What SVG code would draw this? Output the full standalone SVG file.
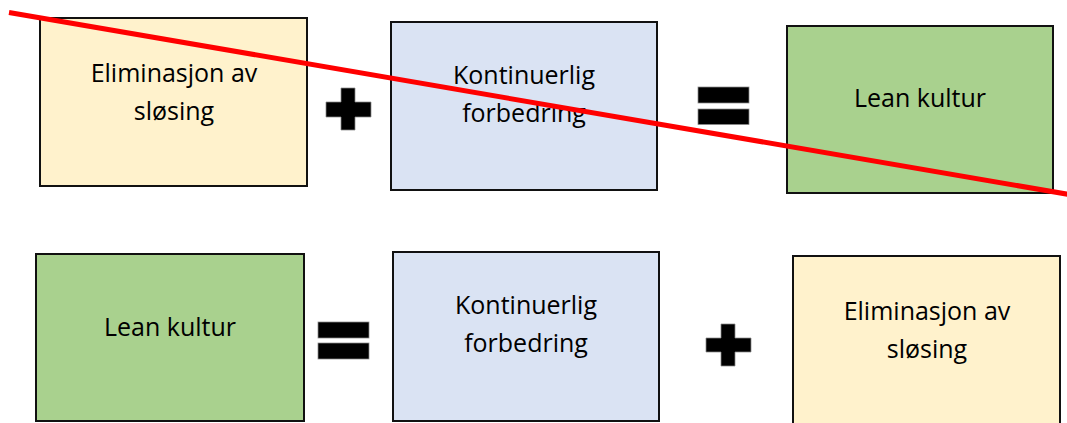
<svg xmlns="http://www.w3.org/2000/svg" width="1067" height="423" viewBox="0 0 1067 423">
  <style>
    .box { stroke: #111; stroke-width: 2; }
    .yellow { fill: #FFF2CC; }
    .blue { fill: #DAE3F3; }
    .green { fill: #A9D18E; }
    .lbl { font-family: "Open Sans", "Liberation Sans", sans-serif; font-size: 25px; fill: #000; text-anchor: middle; }
    .op { fill: #000; stroke: #8a8a8a; stroke-width: 0.75; }
    .strike { stroke: #FF0000; stroke-width: 5; stroke-linecap: butt; fill: none; }
  </style>
  <rect width="1067" height="423" fill="#fff"/>

  <!-- Top row -->
  <g id="top-eliminasjon">
    <rect class="box yellow" x="40" y="18" width="267" height="168"/>
    <text class="lbl" x="174" y="82">Eliminasjon av</text>
    <text class="lbl" x="174" y="120">sløsing</text>
  </g>
  <g id="top-plus">
    <path class="op" d="M341,88 H355 V102 H371 V117 H355 V130 H341 V117 H326 V102 H341 Z"/>
  </g>
  <g id="top-kontinuerlig">
    <rect class="box blue" x="391" y="22" width="266" height="168"/>
    <text class="lbl" x="524" y="84">Kontinuerlig</text>
    <text class="lbl" x="524" y="122">forbedring</text>
  </g>
  <g id="top-equals">
    <rect class="op" x="698" y="87" width="51" height="16"/>
    <rect class="op" x="698" y="109" width="51" height="15.5"/>
  </g>
  <g id="top-lean">
    <rect class="box green" x="787" y="26" width="266" height="167"/>
    <text class="lbl" x="920" y="107">Lean kultur</text>
  </g>

  <!-- Bottom row -->
  <g id="bottom-lean">
    <rect class="box green" x="36" y="254" width="268" height="167"/>
    <text class="lbl" x="170" y="336">Lean kultur</text>
  </g>
  <g id="bottom-equals">
    <rect class="op" x="318" y="322" width="51" height="16"/>
    <rect class="op" x="318" y="343" width="51" height="16"/>
  </g>
  <g id="bottom-kontinuerlig">
    <rect class="box blue" x="393" y="252" width="266" height="169"/>
    <text class="lbl" x="526" y="314">Kontinuerlig</text>
    <text class="lbl" x="526" y="352">forbedring</text>
  </g>
  <g id="bottom-plus">
    <path class="op" d="M721,324 H735 V338 H751 V352 H735 V366 H721 V352 H706 V338 H721 Z"/>
  </g>
  <g id="bottom-eliminasjon">
    <rect class="box yellow" x="793" y="256" width="267" height="180"/>
    <text class="lbl" x="927" y="320">Eliminasjon av</text>
    <text class="lbl" x="927" y="358">sløsing</text>
  </g>

  <!-- Strike-through line -->
  <g id="connectors">
    <line class="strike" x1="9" y1="12.5" x2="1072" y2="195"/>
  </g>
</svg>
